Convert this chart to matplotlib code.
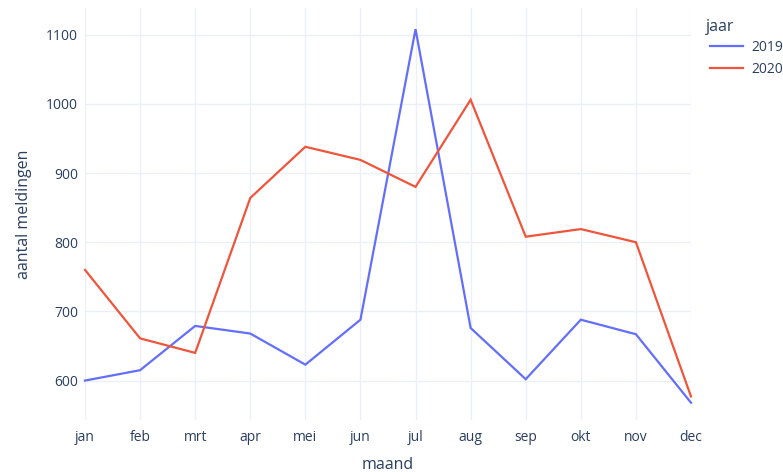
import matplotlib
matplotlib.use("Agg")
import matplotlib.pyplot as plt

months = ["jan", "feb", "mrt", "apr", "mei", "jun", "jul", "aug", "sep", "okt", "nov", "dec"]
y2019 = [600, 615, 679, 668, 623, 688, 1108, 676, 602, 688, 667, 568]
y2020 = [760, 661, 640, 864, 938, 919, 880, 1006, 808, 819, 800, 577]
yticks = [600, 700, 800, 900, 1000, 1100]

plt.rcParams['font.family'] = ['Open Sans', 'DejaVu Sans']
txt = '#2a3f5f'
W, H = 783, 472
fig = plt.figure(figsize=(W/100, H/100), dpi=100)
ax = fig.add_axes([85/W, 1-420/H, (691-85)/W, (420-8)/H])

x = list(range(len(months)))
ax.plot(x, y2019, color='#636efa', lw=1.6, label='2019', solid_joinstyle='miter', zorder=3, clip_on=False)
ax.plot(x, y2020, color='#EF553B', lw=1.6, label='2020', solid_joinstyle='miter', zorder=3, clip_on=False)

ax.set_xlim(0, 11)
ax.set_ylim(543, 1138.6)
ax.set_xticks(x)
ax.set_xticklabels(months)
ax.set_yticks(yticks)
ax.grid(True, color='#EBF0F8', lw=1)
ax.set_axisbelow(True)
for s in ax.spines.values():
    s.set_visible(False)
ax.tick_params(length=0, labelsize=10, colors=txt)
ax.tick_params(axis='x', pad=7)
ax.tick_params(axis='y', pad=5)
ax.set_xlabel('maand', fontsize=11.5, color=txt, labelpad=9)
ax.set_ylabel('aantal meldingen', fontsize=11.5, color=txt, labelpad=10)

fig.text(706/W, 1-27/H, 'jaar', fontsize=11.5, color=txt, ha='left', va='center')
leg = ax.legend(loc='upper left', bbox_to_anchor=(710/W, 1-40/H), bbox_transform=fig.transFigure,
                frameon=False, fontsize=10, handlelength=2.4, handletextpad=0.6, labelspacing=0.5,
                borderaxespad=0, borderpad=0)
for t in leg.get_texts():
    t.set_color(txt)

fig.savefig('out.png', dpi=100)
